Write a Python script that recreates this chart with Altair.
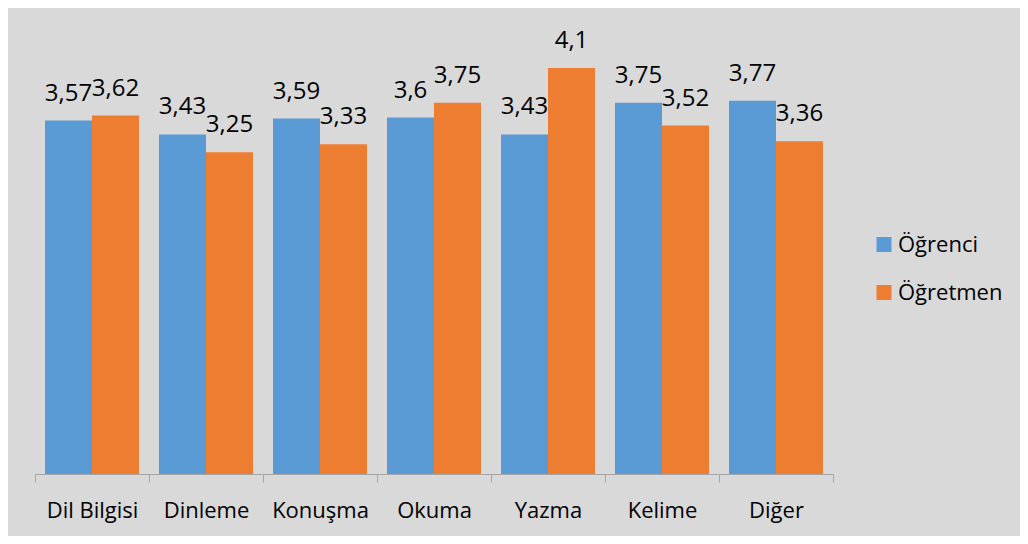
import altair as alt
import pandas as pd

categories = ["Dil Bilgisi", "Dinleme", "Konuşma", "Okuma", "Yazma", "Kelime", "Diğer"]
ogrenci = [3.57, 3.43, 3.59, 3.6, 3.43, 3.75, 3.77]
ogretmen = [3.62, 3.25, 3.33, 3.75, 4.1, 3.52, 3.36]
series = ["Öğrenci", "Öğretmen"]
colors = ["#5b9bd5", "#ed7d31"]

rows = []
for c, a, b in zip(categories, ogrenci, ogretmen):
    for s, v in zip(series, (a, b)):
        rows.append({"kategori": c, "seri": s, "deger": v,
                     "etiket": str(v).replace(".", ",")})
df = pd.DataFrame(rows)

FONT = "Open Sans"

x = alt.X("kategori:N", sort=categories,
          scale=alt.Scale(paddingInner=0, paddingOuter=0),
          axis=alt.Axis(title=None, labelAngle=0, tickBand="extent",
                        domainColor="#a6a6a6", tickColor="#a6a6a6",
                        tickSize=8, domainWidth=1, tickWidth=1,
                        labelFont=FONT, labelFontSize=22, labelColor="#000000",
                        labelBaseline="alphabetic", labelPadding=35))
xo = alt.XOffset("seri:N", sort=series,
                 scale=alt.Scale(paddingInner=0, paddingOuter=0.2128))
y = alt.Y("deger:Q", scale=alt.Scale(domain=[0, 4.5], nice=False), axis=None)

bars = alt.Chart(df).mark_bar().encode(
    x=x, xOffset=xo, y=y,
    color=alt.Color("seri:N", sort=series,
                    scale=alt.Scale(domain=series, range=colors),
                    legend=alt.Legend(title=None, orient="none", legendX=838, legendY=205,
                                      symbolType="square", symbolSize=225,
                                      symbolStrokeWidth=0, labelFont=FONT,
                                      labelFontSize=22, labelColor="#000000",
                                      rowPadding=26, labelOffset=3)),
)

labels = alt.Chart(df).mark_text(font=FONT, fontSize=24, color="#000000",
                                 baseline="alphabetic", dy=-20).encode(
    x=x, xOffset=xo, y=y, text="etiket:N"
)

chart = alt.layer(bars, labels).properties(
    width=798, height=445.5,
    background="#d9d9d9",
    padding={"left": 27, "top": 20.5, "right": 187, "bottom": 62},
    autosize=alt.AutoSizeParams(type="none"),
).configure_view(stroke=None)

chart.save("out.html", embed_options={"renderer": "svg", "actions": False})
